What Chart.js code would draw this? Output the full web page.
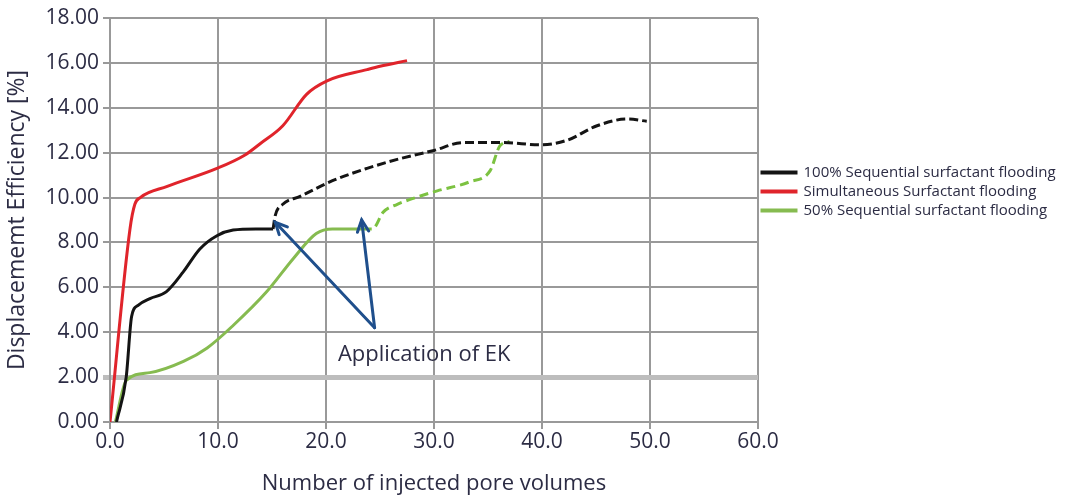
<!DOCTYPE html>
<html>
<head>
<meta charset="utf-8">
<title>Displacement efficiency</title>
<script src="https://cdn.jsdelivr.net/npm/chart.js@4.4.0/dist/chart.umd.min.js"></script>
<style>
  html, body { margin: 0; padding: 0; background: #fff; }
</style>
</head>
<body>
<canvas id="effChart" width="1081" height="499"></canvas>
<script>
// Displacement efficiency vs injected pore volumes

// 100% sequential surfactant flooding (solid part, then after EK = dashed)
const seq100X = [0.6, 1.5, 2.0, 2.6, 3.7, 5.2, 6.8, 8.3, 9.9, 11.4, 13.5, 15.1];
const seq100Y = [0.0, 2.0, 4.7, 5.2, 5.5, 5.8, 6.7, 7.7, 8.3, 8.55, 8.6, 8.6];
const seq100EkX = [15.1, 15.3, 16.0, 17.6, 20.6, 23.8, 26.6, 30.0, 32.7, 36.4, 39.8, 42.3, 45.1, 47.9, 49.7];
const seq100EkY = [8.6, 9.2, 9.7, 10.05, 10.75, 11.3, 11.7, 12.1, 12.45, 12.45, 12.35, 12.55, 13.2, 13.5, 13.4];

// simultaneous surfactant flooding
const simX = [0.0, 1.85, 2.3, 2.8, 5.3, 9.9, 12.5, 13.9, 16.0, 18.2, 20.1, 23.8, 25.0, 27.5];
const simY = [0.0, 8.6, 9.7, 10.0, 10.5, 11.3, 11.9, 12.4, 13.2, 14.6, 15.2, 15.7, 15.85, 16.1];

// 50% sequential surfactant flooding (solid, then dashed after EK)
const seq50X = [0.5, 1.5, 3.7, 6.8, 9.0, 11.4, 14.5, 17.0, 19.1, 20.6, 23.4];
const seq50Y = [0.0, 1.85, 2.2, 2.7, 3.3, 4.3, 5.8, 7.3, 8.4, 8.6, 8.6];
const seq50EkX = [23.4, 24.3, 25.3, 26.6, 28.0, 30.3, 33.3, 35.2, 36.1, 37.0];
const seq50EkY = [8.6, 8.6, 9.35, 9.7, 9.95, 10.3, 10.7, 11.2, 12.3, 12.5];

const seriesNames = ['100% Sequential surfactant flooding', 'Simultaneous Surfactant flooding', '50% Sequential surfactant flooding'];

const xTicks = [0, 10, 20, 30, 40, 50, 60];
const yTicks = [0, 2, 4, 6, 8, 10, 12, 14, 16, 18];

// annotation
const ekText = 'Application of EK';
const ekTextPos = [21.1, 3.0];
const ekTail = [24.5, 4.2];
const ekHeadsX = [15.3, 23.3];
const ekHeadsY = [8.9, 9.0];

const BLACK = '#141414';
const RED = '#e0242b';
const GREEN = '#86bb50';
const GREEN_DASH = '#7cc241';
const ARROW = '#1f4f8c';
const TEXT = '#2c2c44';
const GRID = '#999999';

function pts(xs, ys) {
    return xs.map((x, i) => ({ x: x, y: ys[i] }));
}

function lineSet(label, xs, ys, color, dash) {
    return {
        label: label,
        data: pts(xs, ys),
        borderColor: color,
        backgroundColor: color,
        borderWidth: 3,
        borderDash: dash || [],
        showLine: true,
        pointRadius: 0,
        cubicInterpolationMode: 'monotone',
        fill: false
    };
}

const ekArrows = {
    id: 'ekArrows',
    afterDatasetsDraw(chart) {
        const { ctx, scales: { x, y } } = chart;
        const tx = x.getPixelForValue(ekTail[0]);
        const ty = y.getPixelForValue(ekTail[1]);
        ctx.save();
        ctx.strokeStyle = ARROW;
        ctx.lineWidth = 3;
        ctx.lineCap = 'round';
        ekHeadsX.forEach((hv, i) => {
            const hx = x.getPixelForValue(hv);
            const hy = y.getPixelForValue(ekHeadsY[i]);
            const ang = Math.atan2(hy - ty, hx - tx);
            ctx.beginPath();
            ctx.moveTo(tx, ty);
            ctx.lineTo(hx, hy);
            ctx.stroke();
            // open arrow head
            ctx.beginPath();
            ctx.moveTo(hx - 13 * Math.cos(ang - 0.45), hy - 13 * Math.sin(ang - 0.45));
            ctx.lineTo(hx, hy);
            ctx.lineTo(hx - 13 * Math.cos(ang + 0.45), hy - 13 * Math.sin(ang + 0.45));
            ctx.stroke();
        });
        ctx.fillStyle = TEXT;
        ctx.font = '22px "Open Sans"';
        ctx.textBaseline = 'middle';
        ctx.textAlign = 'left';
        ctx.fillText(ekText, x.getPixelForValue(ekTextPos[0]), y.getPixelForValue(ekTextPos[1]));
        ctx.restore();
    }
};

// fixed legend column width so the plot ends where the reference does
const legendWidth = {
    id: 'legendWidth',
    afterInit(chart) {
        const lg = chart.legend;
        const fit = lg.fit;
        lg.fit = function () {
            fit.call(this);
            this.width = 323;
        };
    }
};

const ctx = document.getElementById('effChart').getContext('2d');
new Chart(ctx, {
    type: 'scatter',
    data: {
        datasets: [
            lineSet(seriesNames[0], seq100X, seq100Y, BLACK),
            lineSet(seriesNames[1], simX, simY, RED),
            lineSet(seriesNames[2], seq50X, seq50Y, GREEN),
            lineSet('', seq100EkX, seq100EkY, BLACK, [9, 4]),
            lineSet('', seq50EkX, seq50EkY, GREEN_DASH, [9, 5])
        ]
    },
    options: {
        responsive: false,
        animation: false,
        layout: { padding: { top: 18, left: 0, right: 0, bottom: 0 } },
        plugins: {
            tooltip: { enabled: false },
            legend: {
                position: 'right',
                align: 'start',
                title: { display: true, text: '', font: { size: 10, lineHeight: 1 }, padding: { top: 133, bottom: 0 } },
                labels: {
                    filter: item => item.text !== '',
                    boxWidth: 34,
                    boxHeight: 1,
                    padding: 4,
                    color: TEXT,
                    font: { family: '"Open Sans"', size: 15 }
                }
            }
        },
        scales: {
            x: {
                type: 'linear',
                min: 0,
                max: 60,
                afterBuildTicks: s => { s.ticks = xTicks.map(v => ({ value: v })); },
                afterFit: s => { s.height = 77; },
                grid: { color: GRID, lineWidth: 2, tickLength: 7 },
                border: { color: GRID, width: 2 },
                ticks: {
                    padding: 0,
                    color: TEXT,
                    font: { family: '"Open Sans"', size: 21 },
                    callback: v => Number(v).toFixed(1)
                },
                title: {
                    display: true,
                    text: 'Number of injected pore volumes',
                    color: TEXT,
                    font: { family: '"Open Sans"', size: 22 },
                    padding: { top: 0, bottom: 2 }
                }
            },
            y: {
                type: 'linear',
                min: 0,
                max: 18,
                afterBuildTicks: s => { s.ticks = yTicks.map(v => ({ value: v })); },
                afterFit: s => { s.width = 110; },
                grid: {
                    color: c => (c.tick && c.tick.value === 2 ? '#bdbdbd' : GRID),
                    lineWidth: c => (c.tick && c.tick.value === 2 ? 5 : 2),
                    tickLength: 7
                },
                border: { color: GRID, width: 2 },
                ticks: {
                    padding: 4,
                    color: TEXT,
                    font: { family: '"Open Sans"', size: 21 },
                    callback: v => Number(v).toFixed(2)
                },
                title: {
                    display: true,
                    text: 'Displacememt Efficiency [%]',
                    color: TEXT,
                    font: { family: '"Open Sans"', size: 23 },
                    padding: { top: 4, bottom: 0 }
                }
            }
        }
    },
    plugins: [legendWidth, ekArrows]
});
</script>
</body>
</html>
